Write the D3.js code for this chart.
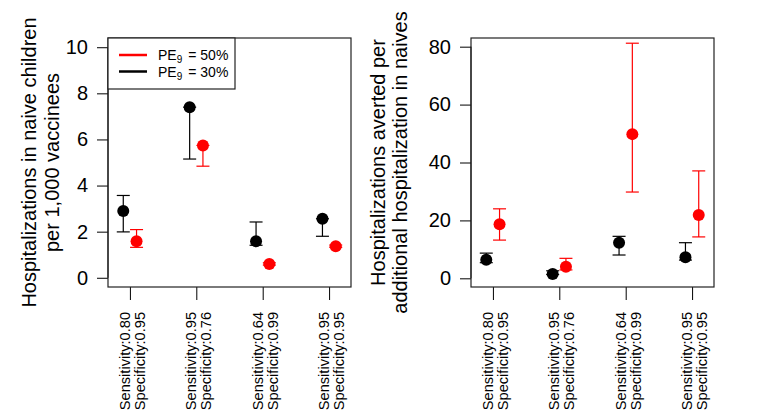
<!DOCTYPE html>
<html><head><meta charset="utf-8">
<script src="https://cdn.jsdelivr.net/npm/d3@7"></script>
<style>body{margin:0;background:#fff} text{font-family:"Liberation Sans",Arial,Helvetica,sans-serif}</style>
</head><body><svg id="c" width="762" height="420"></svg>
<script>
const categories = [1, 2, 3, 4];
const sensLabels = ["Sensitivity:0.80", "Sensitivity:0.95", "Sensitivity:0.64", "Sensitivity:0.95"];
const specLabels = ["Specificity:0.95", "Specificity:0.76", "Specificity:0.99", "Specificity:0.95"];

// Left panel: hospitalizations in naive children per 1,000 vaccinees
const hospPE30   = [2.90, 7.40, 1.58, 2.56];
const hospPE30Lo = [1.99, 5.15, 1.41, 1.80];
const hospPE30Hi = [3.57, 7.40, 2.42, 2.56];
const hospPE50   = [1.58, 5.74, 0.60, 1.37];
const hospPE50Lo = [1.32, 4.84, 0.55, 1.32];
const hospPE50Hi = [2.09, 5.74, 0.65, 1.42];
const leftTicks = [0, 2, 4, 6, 8, 10];

// Right panel: hospitalizations averted per additional hospitalization in naives
const avertPE30   = [6.4, 1.5, 12.3, 7.25];
const avertPE30Lo = [5.4, 1.3, 8.05, 6.3];
const avertPE30Hi = [8.7, 2.6, 14.5, 12.3];
const avertPE50   = [18.65, 4.0, 49.8, 21.9];
const avertPE50Lo = [13.2, 2.9, 29.8, 14.3];
const avertPE50Hi = [24.0, 6.9, 81.2, 37.1];
const rightTicks = [0, 20, 40, 60, 80];

const legendLabels = ["50%", "30%"];
const RED = "#ff0000", BLACK = "#000000";

const svg = d3.select("#c");

function panel(opt) {
  const x = d3.scaleLinear().domain([0.67, 4.33]).range([opt.x0, opt.x1]);
  const y = d3.scaleLinear().domain(opt.ydom).range([opt.y1, opt.y0]);
  const g = svg.append("g");

  // y axis
  const ya = g.append("g").attr("transform", `translate(${opt.x0},0)`)
    .call(d3.axisLeft(y).tickValues(opt.ticks).tickSize(11).tickPadding(9).tickSizeOuter(0));
  ya.select(".domain").remove();
  ya.append("line").attr("x1", 0).attr("x2", 0).attr("y1", y(opt.ticks[0])).attr("y2", y(opt.ticks[opt.ticks.length-1])).attr("stroke", "#000");
  ya.selectAll(".tick line").attr("stroke", "#000").attr("stroke-width", 1);
  ya.selectAll(".tick text").attr("font-size", 20).attr("fill", "#000")
    .attr("font-family", "Liberation Sans, Arial, sans-serif");

  // x axis
  const xa = g.append("g").attr("transform", `translate(0,${opt.y1})`)
    .call(d3.axisBottom(x).tickValues(categories).tickSize(13).tickFormat(""));
  xa.select(".domain").remove();
  xa.selectAll(".tick line").attr("stroke", "#000");
  categories.forEach((c, i) => {
    const t = g.append("text")
      .attr("transform", `translate(${x(c)},${opt.y1 + 25}) rotate(-90)`)
      .attr("text-anchor", "end").attr("font-size", 14.6).attr("fill", "#000");
    t.append("tspan").attr("x", 0).attr("y", 0).text(sensLabels[i]);
    t.append("tspan").attr("x", 0).attr("y", 15).text(specLabels[i]);
  });

  // box
  g.append("rect").attr("x", opt.x0).attr("y", opt.y0)
    .attr("width", opt.x1 - opt.x0).attr("height", opt.y1 - opt.y0)
    .attr("fill", "none").attr("stroke", "#222").attr("stroke-width", 1.2);

  // title
  opt.title.forEach((line, i) => {
    g.append("text")
      .attr("transform", `translate(${opt.titleX[i]},${(opt.y0 + opt.y1) / 2}) rotate(-90)`)
      .attr("text-anchor", "middle").attr("font-size", 20).attr("fill", "#000").text(line);
  });

  // series
  opt.series.forEach(s => {
    const sg = g.append("g");
    categories.forEach((c, i) => {
      const cx = x(c + s.off);
      sg.append("line").attr("x1", cx).attr("x2", cx).attr("y1", y(s.lo[i])).attr("y2", y(s.hi[i]))
        .attr("stroke", s.color).attr("stroke-width", 1.2);
      [s.lo[i], s.hi[i]].forEach(v => {
        sg.append("line").attr("x1", cx - 6.5).attr("x2", cx + 6.5).attr("y1", y(v)).attr("y2", y(v))
          .attr("stroke", s.color).attr("stroke-width", 1.2);
      });
      sg.append("circle").attr("cx", cx).attr("cy", y(s.val[i])).attr("r", 6).attr("fill", s.color);
    });
  });
  return {x, y};
}

panel({
  x0: 108, x1: 351, y0: 38, y1: 287, ydom: [-0.4, 10.4], ticks: leftTicks,
  title: ["Hospitalizations in naive children", "per 1,000 vaccinees"], titleX: [36, 59],
  series: [
    {val: hospPE30, lo: hospPE30Lo, hi: hospPE30Hi, color: BLACK, off: -0.1},
    {val: hospPE50, lo: hospPE50Lo, hi: hospPE50Hi, color: RED, off: 0.1}
  ]
});

panel({
  x0: 471, x1: 714, y0: 38, y1: 287, ydom: [-3.0, 83.0], ticks: rightTicks,
  title: ["Hospitalizations averted per", "additional hospitalization in naives"], titleX: [385, 407],
  series: [
    {val: avertPE30, lo: avertPE30Lo, hi: avertPE30Hi, color: BLACK, off: -0.1},
    {val: avertPE50, lo: avertPE50Lo, hi: avertPE50Hi, color: RED, off: 0.1}
  ]
});

// legend
const lg = svg.append("g");
lg.append("rect").attr("x", 108).attr("y", 38).attr("width", 127).attr("height", 51)
  .attr("fill", "#fff").attr("stroke", "#222").attr("stroke-width", 1.2);
[RED, BLACK].forEach((col, i) => {
  const yy = 55 + i * 16.5;
  lg.append("line").attr("x1", 119).attr("x2", 147).attr("y1", yy).attr("y2", yy)
    .attr("stroke", col).attr("stroke-width", 2.5);
  const t = lg.append("text").attr("x", 158).attr("y", yy + 5).attr("font-size", 14).attr("fill", "#000");
  t.append("tspan").text("PE");
  t.append("tspan").attr("font-size", 10).attr("dy", 3).text("9");
  t.append("tspan").attr("dy", -3).attr("dx", 6).text("= " + legendLabels[i]);
});
</script></body></html>
